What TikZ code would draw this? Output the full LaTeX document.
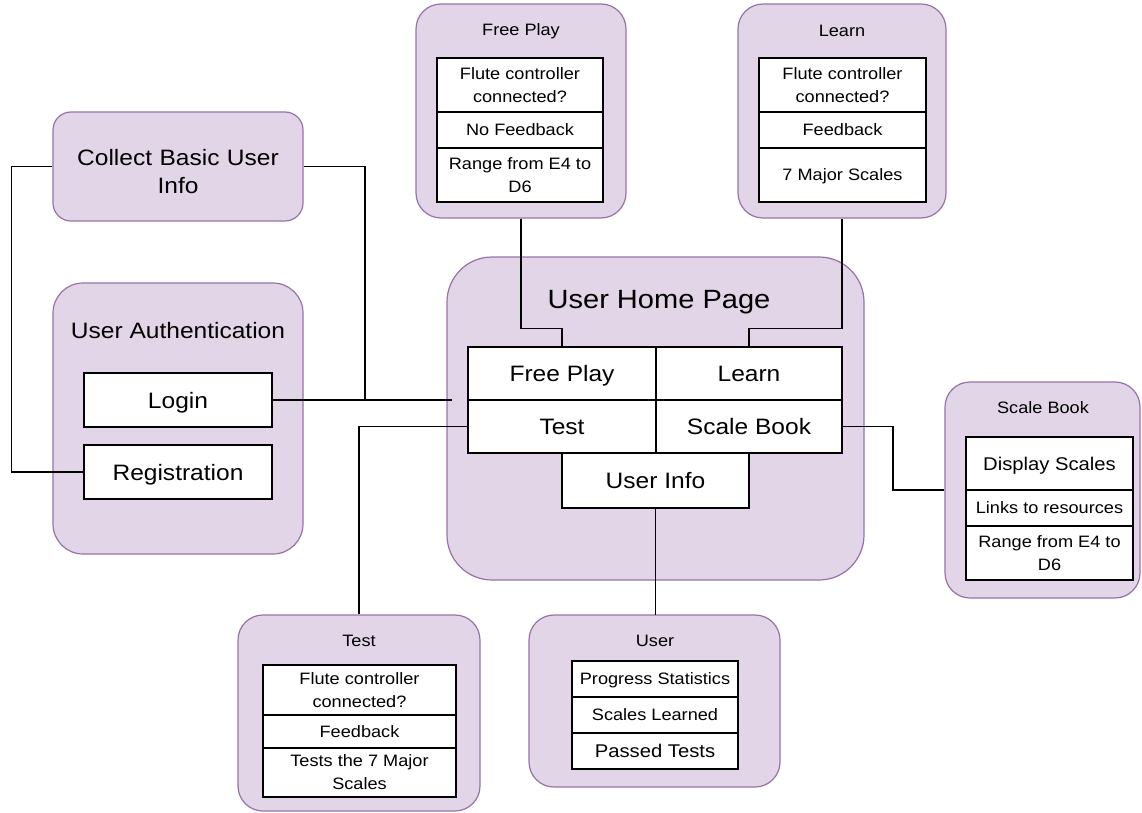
\documentclass[tikz,border=0pt]{standalone}
\usepackage{fontspec}
\setmainfont[FakeStretch=1.1]{Liberation Sans}
\definecolor{pfill}{HTML}{E1D5E7}
\definecolor{pline}{HTML}{9673A6}
\newcommand\fsmall{\fontsize{16.5}{23}\selectfont}
\newcommand\fmid{\fontsize{18.4}{23}\selectfont}
\newcommand\fmed{\fontsize{22.3}{28}\selectfont}
\newcommand\fbig{\fontsize{26.4}{32}\selectfont}
\tikzset{
  group/.style={draw=pline, fill=pfill, line width=1.2pt, rounded corners=25pt, inner sep=0pt},
  cell/.style={draw=black, fill=white, line width=1.6pt, inner sep=0pt, align=center, font=\fsmall},
  one/.style={text height=11.9pt, text depth=0pt},
  onemid/.style={font=\fmid, text height=13.3pt, text depth=0pt},
  bigcell/.style={cell, font=\fmed, text height=16pt, text depth=0pt},
  ttl/.style={inner sep=0pt, align=center, font=\fsmall},
  wire/.style={draw=black, line width=1.5pt},
}
\begin{document}
\begin{tikzpicture}[x=1pt,y=-1pt]
\useasboundingbox (0,0) rectangle (1142,813);

% ---------- group boxes ----------
\node[group, rounded corners=18pt, minimum width=250pt, minimum height=109pt] (cbo) at (178,166.5) {};
\node[group, rounded corners=30pt, minimum width=250pt, minimum height=271pt] (auo) at (178,418.5) {};
\node[group, minimum width=210pt, minimum height=214pt] (fpo) at (521,111) {};
\node[group, minimum width=208pt, minimum height=214pt] (lno) at (842,111) {};
\node[group, rounded corners=45pt, minimum width=417pt, minimum height=323pt] (hpo) at (655.5,418.5) {};
\node[group, minimum width=195pt, minimum height=216pt] (sbo) at (1042.5,490) {};
\node[group, minimum width=242pt, minimum height=196pt] (tso) at (359,713) {};
\node[group, minimum width=251pt, minimum height=172pt] (uso) at (654.5,701) {};

% ---------- titles ----------
\node[ttl, font=\fmed, text width=240pt] (cbt) at (178,172) {Collect Basic User\\Info};
\node[ttl, font=\fmed] (aut) at (178,331) {User Authentication};
\node[ttl] (fpt) at (521,31) {Free Play};
\node[ttl] (lnt) at (842,31) {Learn};
\node[ttl, font=\fbig] (hpt) at (659,302) {User Home Page};
\node[ttl] (sbt) at (1043,408) {Scale Book};
\node[ttl] (tst) at (359,641) {Test};
\node[ttl] (ust) at (655,641) {User};

% ---------- connectors ----------
\coordinate (hin) at (452,400);
\coordinate (jn) at (365,400);
\coordinate (lgE) at (272,400);
\coordinate (rgW) at (84,472);
\draw[wire] (cbo.west) -- ++(-41,0) |- (rgW);
\draw[wire] (cbo.east) -| (jn);
\draw[wire] (lgE) -- (hin);
\draw[wire] (fpo.south) -- ++(0,110) -| (562,347);
\draw[wire] (lno.south) -- ++(0,110) -| (749,347);
\draw[wire] (468,426.5) -| (tso.north);
\draw[wire] (842,426.5) -- ++(51,0) |- (sbo.west);
\draw[wire] (655.5,508) -- (655.5,615);

% ---------- authentication cells ----------
\node[bigcell, minimum width=188pt, minimum height=54pt] (login) at (178,400) {Login};
\node[bigcell, minimum width=188pt, minimum height=54pt] (reg) at (178,472) {Registration};

% ---------- free play cells ----------
\node[cell, minimum width=166pt, minimum height=54pt] (fp1) at (520,85) {Flute controller\\connected?};
\node[cell, one, minimum width=166pt, minimum height=36pt] (fp2) at (520,130) {No Feedback};
\node[cell, minimum width=166pt, minimum height=54pt] (fp3) at (520,175) {Range from E4 to\\D6};

% ---------- learn cells ----------
\node[cell, minimum width=167pt, minimum height=54pt] (ln1) at (842.5,85) {Flute controller\\connected?};
\node[cell, one, minimum width=167pt, minimum height=36pt] (ln2) at (842.5,130) {Feedback};
\node[cell, one, minimum width=167pt, minimum height=54pt] (ln3) at (842.5,175) {7 Major Scales};

% ---------- home page grid ----------
\node[bigcell, minimum width=188pt, minimum height=53pt] (fpc) at (562,373.5) {Free Play};
\node[bigcell, minimum width=186pt, minimum height=53pt] (lnc) at (749,373.5) {Learn};
\node[bigcell, minimum width=188pt, minimum height=53pt] (tc) at (562,426.5) {Test};
\node[bigcell, minimum width=186pt, minimum height=53pt] (sbc) at (749,426.5) {Scale Book};
\node[bigcell, minimum width=187pt, minimum height=55pt] (uic) at (655.5,480.5) {User Info};

% ---------- scale book cells ----------
\node[cell, onemid, minimum width=167pt, minimum height=53pt] (sb1) at (1049.5,463.5) {Display Scales};
\node[cell, one, minimum width=167pt, minimum height=36pt] (sb2) at (1049.5,508) {Links to resources};
\node[cell, minimum width=167pt, minimum height=54pt] (sb3) at (1049.5,553) {Range from E4 to\\D6};

% ---------- test cells ----------
\node[cell, minimum width=193pt, minimum height=50pt] (ts1) at (359.5,690) {Flute controller\\connected?};
\node[cell, one, minimum width=193pt, minimum height=33pt] (ts2) at (359.5,731.5) {Feedback};
\node[cell, minimum width=193pt, minimum height=49pt] (ts3) at (359.5,772.5) {Tests the 7 Major\\Scales};

% ---------- user cells ----------
\node[cell, one, minimum width=166pt, minimum height=36pt] (us1) at (655,679) {Progress Statistics};
\node[cell, one, minimum width=166pt, minimum height=36pt] (us2) at (655,715) {Scales Learned};
\node[cell, onemid, minimum width=166pt, minimum height=36pt] (us3) at (655,751) {Passed Tests};
\end{tikzpicture}
\end{document}
